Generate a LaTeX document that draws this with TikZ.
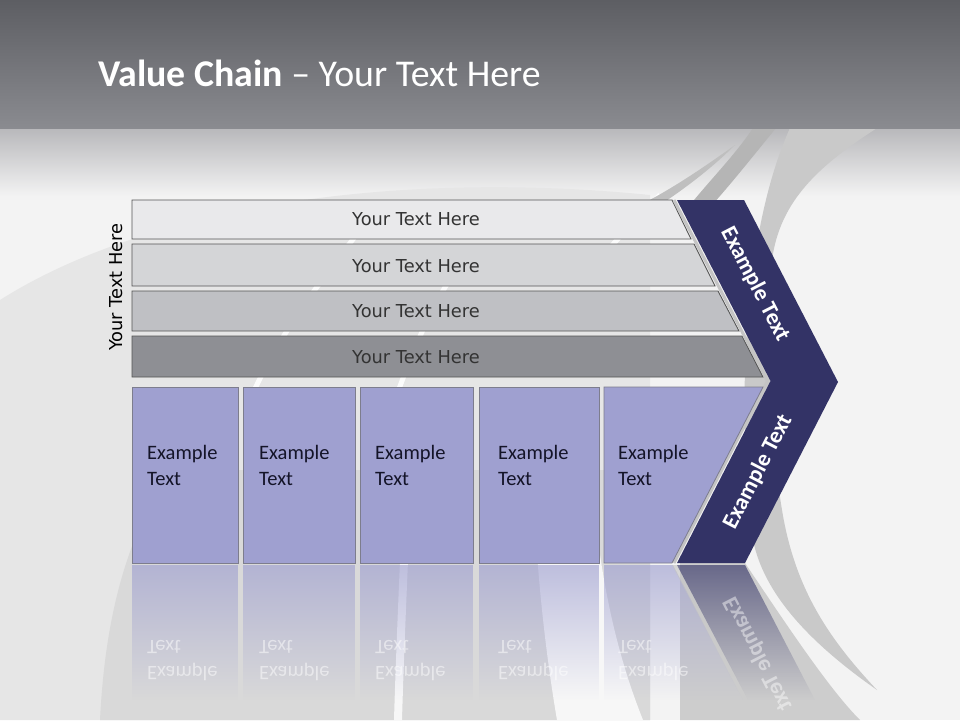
\documentclass[tikz,border=0pt]{standalone}
\usepackage{fontspec}
\setmainfont{Carlito}
\newfontfamily\dvs{DejaVu Sans}
\usetikzlibrary{fadings}
\definecolor{bg}{HTML}{F3F3F3}
\definecolor{hdrtop}{HTML}{5D5E63}
\definecolor{hdrbot}{HTML}{8A8B90}
\definecolor{fadetop}{HTML}{B8B8BB}
\definecolor{regA}{HTML}{E6E6E6}
\definecolor{regB}{HTML}{D9D9D9}
\definecolor{swoosh}{HTML}{C9C9C9}
\definecolor{barA}{HTML}{E9E9EB}
\definecolor{barB}{HTML}{D4D5D7}
\definecolor{barC}{HTML}{BFC0C4}
\definecolor{barD}{HTML}{8E8F94}
\definecolor{barline}{HTML}{555555}
\definecolor{boxcol}{HTML}{9FA0D0}
\definecolor{boxline}{HTML}{7D7D8D}
\definecolor{chevcol}{HTML}{333366}
\definecolor{txtgray}{HTML}{333333}
\definecolor{boxtxt}{HTML}{141428}
\definecolor{hlcol}{HTML}{C4C4C4}
\tikzfading[name=reflfade, top color=transparent!35, bottom color=transparent!100]
\begin{document}
\begin{tikzpicture}[x=1pt,y=-1pt,
  bartext/.style={font=\dvs\fontsize{17.8}{20}\selectfont, text=txtgray, inner sep=0pt},
  barshape/.style={draw=barline, line width=0.9pt},
  boxshape/.style={fill=boxcol, draw=boxline, line width=0.8pt},
  boxtext/.style={font=\fontsize{20.5}{26}\selectfont, text=boxtxt, align=left, anchor=west, inner sep=0pt},
  chevtext/.style={font=\bfseries\fontsize{23}{26}\selectfont, text=white, inner sep=0pt},
  refltext/.style={boxtext, text=white, text opacity=0.5},
  hl/.style={draw=hlcol, line width=3pt},
  reflfill/.style={path fading=reflfade},
  streak/.style={draw=white, line width=5pt, opacity=0.9},
]
\useasboundingbox (0,0) rectangle (960,720);
% background
\fill[bg] (0,0) rectangle (960,720);
\fill[top color=fadetop, bottom color=bg] (0,128) rectangle (960,196);
\fill[regA] (0,300) .. controls (150,205) and (400,170) .. (650,195) -- (650,720) -- (0,720) -- cycle;
\fill[regB] (100,720) .. controls (105,620) and (125,540) .. (170,470) -- (650,470) -- (650,720) -- cycle;
% white swirl highlights
\fill[white, opacity=0.8] (533,470) .. controls (535,560) and (545,650) .. (557,720) -- (643,720) .. controls (615,650) and (598,570) .. (591,470) -- cycle;
\fill[white, opacity=0.8] (404,470) .. controls (400,560) and (396,650) .. (394,720) -- (402,720) .. controls (404,650) and (408,560) .. (412,470) -- cycle;
\draw[streak] (250,400) .. controls (280,330) and (330,270) .. (360,230);
\draw[streak] (395,400) .. controls (420,330) and (440,290) .. (470,250);
\draw[streak] (600,260) .. controls (620,235) and (640,215) .. (660,195);
% right swooshes
\fill[swoosh] (790,128) -- (877,128) .. controls (820,165) and (780,200) .. (772,260) .. controls (765,360) and (772,450) .. (782,510) .. controls (795,590) and (830,640) .. (877,690) .. controls (820,650) and (765,600) .. (753,540) .. controls (740,450) and (735,250) .. (790,128) -- cycle;
\fill[swoosh!92] (680,563) -- (745,563) .. controls (790,630) and (830,690) .. (860,720) -- (680,720) -- cycle;
\fill[swoosh!90!black] (753,128) -- (776,128) .. controls (750,160) and (730,185) .. (712,205) -- (690,205) .. controls (710,180) and (735,155) .. (753,128) -- cycle;
\fill[swoosh!95!black] (735,145) .. controls (700,170) and (670,190) .. (640,205) -- (660,205) .. controls (690,185) and (715,165) .. (735,145) -- cycle;
% header
\fill[top color=hdrtop, bottom color=hdrbot] (0,0) rectangle (960,128);
\node[anchor=base west, text=white, inner sep=0pt, font=\fontsize{37.8}{42}\selectfont] (title) at (98,86) {\textbf{Value Chain} – Your Text Here};
% bars
\filldraw[barshape, fill=barA] (132,200) -- (672,200) -- (691,239) -- (132,239) -- cycle;
\filldraw[barshape, fill=barB] (132,244) -- (694,244) -- (715,286) -- (132,286) -- cycle;
\filldraw[barshape, fill=barC] (132,291) -- (718,291) -- (739,331) -- (132,331) -- cycle;
\filldraw[barshape, fill=barD] (132,336) -- (742,336) -- (763,377) -- (132,377) -- cycle;
\node[bartext] (b1) at (416,219) {Your Text Here};
\node[bartext] (b2) at (416,266) {Your Text Here};
\node[bartext] (b3) at (416,311) {Your Text Here};
\node[bartext] (b4) at (416,357) {Your Text Here};
\node[rotate=90, inner sep=0pt, font=\dvs\fontsize{17.8}{20}\selectfont] (side) at (116,287) {Your Text Here};
% chevron
\draw[hl] (674,200) -- (767.5,381) -- (674,563);
\fill[chevcol] (677,200) -- (744,200) -- (838,382) -- (745,563) -- (677,563) -- (770.5,381) -- cycle;
\node[chevtext, rotate=-62.7] (c1) at (755,284) {Example Text};
\node[chevtext, rotate=62.7] (c2) at (758,472) {Example Text};
% boxes
\filldraw[boxshape] (132,387) rectangle (238,563);
\filldraw[boxshape] (243,387) rectangle (355,563);
\filldraw[boxshape] (360,387) rectangle (473,563);
\filldraw[boxshape] (479,387) rectangle (599,563);
\filldraw[boxshape] (604,387) -- (763,387) -- (672,563) -- (604,563) -- cycle;
\node[boxtext] (e1) at (147,465) {Example\\Text};
\node[boxtext] (e2) at (259,465) {Example\\Text};
\node[boxtext] (e3) at (375,465) {Example\\Text};
\node[boxtext] (e4) at (498,465) {Example\\Text};
\node[boxtext] (e5) at (618,465) {Example\\Text};
% reflection
\fill[boxcol, reflfill] (132,565) rectangle (238,700);
\fill[boxcol, reflfill] (243,565) rectangle (355,700);
\fill[boxcol, reflfill] (360,565) rectangle (473,700);
\fill[boxcol, reflfill] (479,565) rectangle (599,700);
\fill[boxcol, reflfill] (604,565) -- (673,565) -- (743,700) -- (604,700) -- cycle;
\fill[hlcol, reflfill] (672,565) -- (677,565) -- (748,700) -- (743,700) -- cycle;
\fill[chevcol, reflfill] (677,565) -- (745,565) -- (815,700) -- (748,700) -- cycle;
\node[refltext, yscale=-1] (r1) at (147,661) {Example\\Text};
\node[refltext, yscale=-1] (r2) at (259,661) {Example\\Text};
\node[refltext, yscale=-1] (r3) at (375,661) {Example\\Text};
\node[refltext, yscale=-1] (r4) at (498,661) {Example\\Text};
\node[refltext, yscale=-1] (r5) at (618,661) {Example\\Text};
\node[chevtext, text opacity=0.45, rotate=-62.7, yscale=-1] (rc) at (758,654) {Example Text};
\end{tikzpicture}
\end{document}
